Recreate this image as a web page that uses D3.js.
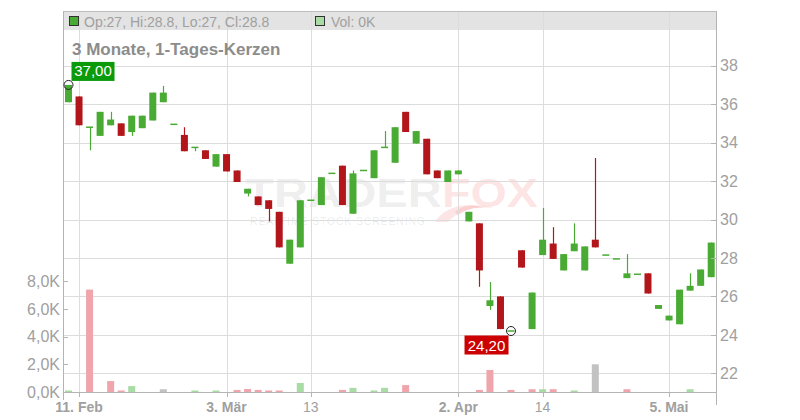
<!DOCTYPE html>
<html><head><meta charset="utf-8">
<script src="https://cdn.jsdelivr.net/npm/d3@7"></script>
<style>
html,body{margin:0;padding:0;background:#fff;}
svg{display:block;font-family:"Liberation Sans",Arial,sans-serif;}
</style></head>
<body><svg id="c" width="800" height="420"></svg>
<script>
// ---- data ----
const dates = [
"2025-02-10","2025-02-11","2025-02-12","2025-02-13","2025-02-14","2025-02-17","2025-02-18","2025-02-19","2025-02-20","2025-02-21","2025-02-24","2025-02-25","2025-02-26","2025-02-27","2025-02-28",
"2025-03-03","2025-03-04","2025-03-05","2025-03-06","2025-03-07","2025-03-10","2025-03-11","2025-03-12","2025-03-13","2025-03-14","2025-03-17","2025-03-18","2025-03-19","2025-03-20","2025-03-21","2025-03-24","2025-03-25","2025-03-26","2025-03-27","2025-03-28","2025-03-31",
"2025-04-01","2025-04-02","2025-04-03","2025-04-04","2025-04-07","2025-04-08","2025-04-09","2025-04-10","2025-04-11","2025-04-14","2025-04-15","2025-04-16","2025-04-17","2025-04-22","2025-04-23","2025-04-24","2025-04-25","2025-04-28","2025-04-29","2025-04-30",
"2025-05-02","2025-05-05","2025-05-06","2025-05-07","2025-05-08","2025-05-09"];
const open  = [36.1,36.4,34.8,34.35,34.9,35.0,34.55,34.75,35.15,36.1,34.95,34.4,33.75,33.6,32.75,33.4,32.55,31.35,31.2,31.0,30.4,27.7,28.55,31.0,30.75,32.4,32.8,30.3,32.55,32.15,33.75,32.95,35.6,33.95,34.2,32.55,31.95,32.35,29.9,29.8,25.5,26.0,24.2,28.4,24.3,28.15,28.75,27.35,28.35,27.35,28.95,28.15,27.95,26.95,27.15,27.2,25.35,24.75,24.55,26.3,26.55,27.0];
const high  = [37.0,36.4,34.8,35.6,35.6,35.0,35.4,35.4,36.6,36.95,34.95,34.8,33.75,33.6,33.4,33.4,32.55,31.6,31.2,31.0,30.4,28.95,31.0,31.0,32.2,32.4,32.8,32.55,32.55,33.6,34.6,34.8,35.6,34.6,34.2,32.55,32.55,32.55,30.4,29.8,26.75,26.0,24.2,28.4,26.2,30.6,29.6,28.2,29.8,28.6,33.2,28.15,27.95,28.2,27.15,27.2,25.55,25.0,26.35,27.2,27.4,28.8];
const low   = [36.1,34.9,33.6,34.35,34.9,34.35,34.35,34.75,35.15,36.1,34.95,33.55,33.55,33.15,32.75,32.5,31.95,31.2,30.75,29.9,28.55,27.7,28.55,31.0,30.75,32.4,30.75,30.3,32.55,32.15,33.75,32.95,34.55,33.95,32.35,32.15,31.95,32.35,29.9,26.5,25.3,24.3,24.2,27.5,24.3,28.15,27.95,27.35,28.35,27.35,28.55,28.15,27.95,26.95,27.15,26.15,25.35,24.75,24.55,26.3,26.55,27.0];
const close = [37.0,34.9,34.8,35.6,35.2,34.35,35.4,35.4,36.6,36.6,34.95,33.55,33.75,33.15,33.4,32.5,31.95,31.6,30.75,30.55,28.55,28.95,31.0,31.0,32.2,32.4,30.75,32.4,32.55,33.6,33.75,34.8,34.55,34.6,32.35,32.15,32.55,32.55,30.4,27.35,25.8,24.3,24.2,27.5,26.2,28.95,27.95,28.2,28.75,28.6,28.55,28.15,27.95,27.2,27.15,26.15,25.55,25.0,26.35,26.55,27.4,28.8];
const volume = [80,0,7400,0,790,70,430,0,0,200,0,0,70,0,70,0,150,220,150,80,80,0,650,0,0,0,150,300,0,80,300,0,500,0,0,0,0,0,0,150,1590,0,150,0,200,200,200,0,80,0,2000,0,0,200,0,0,0,0,0,200,0,0];
const volDir = [1,-1,-1,1,-1,-1,1,1,1,0,-1,-1,1,-1,1,-1,-1,-1,-1,-1,-1,1,1,0,1,1,-1,1,1,1,1,1,-1,1,-1,-1,1,1,-1,-1,-1,-1,-1,-1,-1,1,-1,1,1,1,0,-1,-1,-1,-1,-1,1,-1,1,1,1,1];
const priceTicks = [22,24,26,28,30,32,34,36,38];
const volTicks = [0,2000,4000,6000,8000];
const xTickDates = ["2025-02-11","2025-03-03","2025-03-13","2025-04-02","2025-04-14","2025-05-05"];
const xTickLabels = ["11. Feb","3. Mär","13","2. Apr","14","5. Mai"];
const title = "3 Monate, 1-Tages-Kerzen";
const headerOHLC = "Op:27, Hi:28.8, Lo:27, Cl:28.8";
const headerVol = "Vol: 0K";
const hiLabel = "37,00", loLabel = "24,20";

// ---- layout ----
const L = 63, R = 716, T = 11, B = 392;
const svg = d3.select("#c");
const x = d3.scalePoint().domain(dates).range([68.5, 711.2]);
const y = d3.scaleLinear().domain([22, 38]).range([373.3, 65.7]);
const yv = d3.scaleLinear().domain([0, 8000]).range([392, 281.3]);
const GREEN = "#49ab33", RED = "#b3161a";
const gridC = "#dcdcdc", axisC = "#b4b4b4", txtC = "#a0a0a0";

// header band
svg.append("rect").attr("x", L).attr("y", T).attr("width", R - L).attr("height", 19).attr("fill", "#e3e3e3");
svg.append("line").attr("x1", L).attr("x2", R).attr("y1", T + 0.5).attr("y2", T + 0.5).attr("stroke", "#bdbdbd");

// watermark
const wm = svg.append("g");
wm.append("text").attr("x", 245).attr("y", 207).attr("font-size", 41).attr("font-weight", "bold")
  .attr("textLength", 197).attr("lengthAdjust", "spacingAndGlyphs").attr("fill", "rgba(0,0,0,0.085)").text("TRADER");
wm.append("text").attr("x", 442).attr("y", 207).attr("font-size", 41).attr("font-weight", "bold")
  .attr("textLength", 96).attr("lengthAdjust", "spacingAndGlyphs").attr("fill", "rgba(240,40,50,0.13)").text("FOX");
wm.append("text").attr("x", 250).attr("y", 225).attr("font-size", 10.5).attr("letter-spacing", 2)
  .attr("textLength", 177).attr("lengthAdjust", "spacing").attr("fill", "rgba(0,0,0,0.09)").text("REALTIME STOCK SCREENING");
wm.append("path").attr("d", "M435,222 C445,205 470,200 500,210 C480,203 458,210 448,222 Z").attr("fill", "rgba(240,40,50,0.12)");
wm.append("path").attr("d", "M455,212 C462,205 475,204 485,208 C474,207 465,210 458,216 Z").attr("fill", "rgba(240,40,50,0.12)");

// horizontal gridlines (price)
svg.append("g").selectAll("line").data(priceTicks).join("line")
  .attr("x1", L).attr("x2", R).attr("y1", d => Math.round(y(d)) + 0.5).attr("y2", d => Math.round(y(d)) + 0.5)
  .attr("stroke", gridC);
// vertical gridlines
svg.append("g").selectAll("line").data(xTickDates).join("line")
  .attr("x1", d => Math.round(x(d)) + 0.5).attr("x2", d => Math.round(x(d)) + 0.5)
  .attr("y1", T + 1).attr("y2", B).attr("stroke", gridC);

// header text
svg.append("rect").attr("x", 69.5).attr("y", 16.5).attr("width", 9).attr("height", 9).attr("fill", GREEN).attr("stroke", "#333");
svg.append("text").attr("x", 84).attr("y", 27).attr("font-size", 14).attr("fill", txtC).text(headerOHLC);
svg.append("rect").attr("x", 315.5).attr("y", 16.5).attr("width", 9).attr("height", 9).attr("fill", "#a9dca4").attr("stroke", "#333");
svg.append("text").attr("x", 331).attr("y", 27).attr("font-size", 14).attr("fill", txtC).text(headerVol);
svg.append("text").attr("x", 72).attr("y", 55).attr("font-size", 17).attr("font-weight", "bold").attr("fill", "#8c8c8c").text(title);

// volume bars
const vcol = d => d > 0 ? "#a9dca4" : d < 0 ? "#f0a4ac" : "#c2c2c2";
svg.append("g").selectAll("rect").data(dates.map((d, i) => ({d, v: volume[i], dir: volDir[i]})).filter(o => o.v > 0)).join("rect")
  .attr("x", o => Math.max(L, x(o.d) - 3.5)).attr("width", o => x(o.d) + 3.5 - Math.max(L, x(o.d) - 3.5))
  .attr("y", o => Math.min(yv(o.v), B - 1.5)).attr("height", o => B - Math.min(yv(o.v), B - 1.5))
  .attr("fill", o => vcol(o.dir));

// candles
const cd = dates.map((d, i) => ({d, o: open[i], h: high[i], l: low[i], c: close[i]}));
const cg = svg.append("g").selectAll("g").data(cd).join("g");
cg.attr("fill", k => k.c >= k.o ? GREEN : RED).attr("stroke", k => k.c >= k.o ? GREEN : RED);
cg.append("line").attr("x1", k => Math.round(x(k.d)) + 0.5).attr("x2", k => Math.round(x(k.d)) + 0.5)
  .attr("y1", k => y(k.h)).attr("y2", k => y(k.l)).attr("stroke-width", 1.2);
cg.append("rect").attr("stroke", "none")
  .attr("x", k => x(k.d) - 3.5).attr("width", 7)
  .attr("y", k => Math.min(y(k.o), y(k.c)) - (Math.abs(y(k.o) - y(k.c)) < 1.5 ? 0.75 : 0))
  .attr("height", k => Math.max(1.5, Math.abs(y(k.o) - y(k.c))));

// axes lines
svg.append("line").attr("x1", L + 0.5).attr("x2", L + 0.5).attr("y1", T).attr("y2", B + 8).attr("stroke", axisC);
svg.append("line").attr("x1", R + 0.5).attr("x2", R + 0.5).attr("y1", T).attr("y2", 405).attr("stroke", axisC);
svg.append("line").attr("x1", L).attr("x2", R + 1).attr("y1", B + 0.5).attr("y2", B + 0.5).attr("stroke", axisC);

// right price axis
const ra = svg.append("g");
ra.selectAll("line").data(priceTicks).join("line")
  .attr("x1", R - 5).attr("x2", R).attr("y1", d => Math.round(y(d)) + 0.5).attr("y2", d => Math.round(y(d)) + 0.5).attr("stroke", axisC);
ra.selectAll("text").data(priceTicks).join("text")
  .attr("x", 720).attr("y", d => y(d)).attr("dy", "0.36em").attr("font-size", 16).attr("fill", txtC).text(d => d);

// left volume axis
const la = svg.append("g");
la.selectAll("line").data(volTicks).join("line")
  .attr("x1", L).attr("x2", L + 5).attr("y1", d => Math.round(yv(d)) + 0.5).attr("y2", d => Math.round(yv(d)) + 0.5).attr("stroke", axisC);
const fmtK = d3.format(".1f");
la.selectAll("text").data(volTicks).join("text")
  .attr("x", 60).attr("y", d => yv(d)).attr("dy", "0.36em").attr("text-anchor", "end").attr("font-size", 16).attr("fill", txtC)
  .text(d => fmtK(d / 1000).replace(".", ",") + "K");

// x axis ticks and labels
const xa = svg.append("g");
xa.selectAll("line").data(xTickDates).join("line")
  .attr("x1", d => Math.round(x(d)) + 0.5).attr("x2", d => Math.round(x(d)) + 0.5).attr("y1", B).attr("y2", B + 5).attr("stroke", axisC);
xa.selectAll("text").data(xTickDates).join("text")
  .attr("x", d => x(d)).attr("y", 412).attr("text-anchor", "middle").attr("font-size", 14)
  .attr("font-weight", (d, i) => xTickLabels[i].includes(".") ? "bold" : "normal")
  .attr("fill", txtC).text((d, i) => xTickLabels[i]);

// extremes markers
const iHi = d3.maxIndex(high), iLo = d3.minIndex(low);
const hx = x(dates[iHi]), hy = y(high[iHi]);
svg.append("circle").attr("cx", hx).attr("cy", hy).attr("r", 4.5).attr("fill", "none").attr("stroke", "#222");
svg.append("rect").attr("x", hx + 3).attr("y", hy - 23).attr("width", 43).attr("height", 19).attr("fill", "#0a9a0a");
svg.append("text").attr("x", hx + 24.5).attr("y", hy - 8.5).attr("text-anchor", "middle").attr("font-size", 15).attr("fill", "#fff").text(hiLabel);
const lx = x(dates[iLo]), ly = y(low[iLo]);
svg.append("circle").attr("cx", lx).attr("cy", ly).attr("r", 4.5).attr("fill", "none").attr("stroke", "#222");
svg.append("rect").attr("x", lx - 46.5).attr("y", ly + 4.5).attr("width", 44).attr("height", 19).attr("fill", "#cc0000");
svg.append("text").attr("x", lx - 24.5).attr("y", ly + 19.5).attr("text-anchor", "middle").attr("font-size", 15).attr("fill", "#fff").text(loLabel);
</script></body></html>
